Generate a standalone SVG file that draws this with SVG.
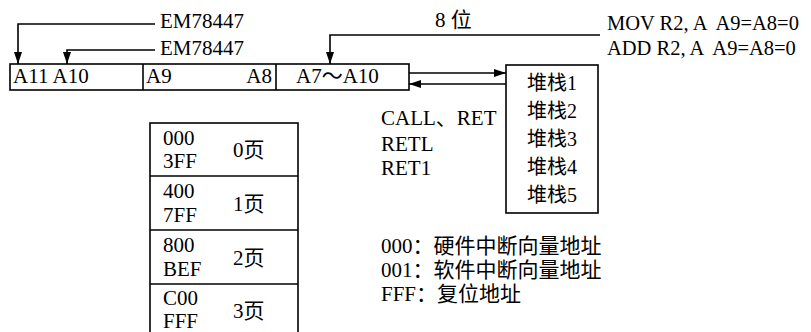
<svg xmlns="http://www.w3.org/2000/svg" width="811" height="332" viewBox="0 0 811 332">
<defs>
<style>
text{font-family:"Liberation Serif","Noto Sans CJK SC",serif;font-size:21px;fill:#000}
.box{fill:#fff;stroke:#000;stroke-width:1.6}
.ln{fill:none;stroke:#000;stroke-width:1.6}
.mid{text-anchor:middle}
.end{text-anchor:end}
.stk{font-size:20px}
.ins{font-size:20.5px}
</style>
<marker id="ah" markerWidth="12" markerHeight="8" refX="12" refY="4" orient="auto" markerUnits="userSpaceOnUse">
<path d="M0,0 L12,4 L0,8 Z" fill="#000"/>
</marker>
</defs>
<rect width="811" height="332" fill="#fff"/>

<g id="connectors">
<polyline class="ln" points="155,24 18,24 18,64" marker-end="url(#ah)"/>
<polyline class="ln" points="155,50 67,50 67,64" marker-end="url(#ah)"/>
<polyline class="ln" points="600,35 330,35 330,64" marker-end="url(#ah)"/>
<line class="ln" x1="409" y1="73" x2="506" y2="73" marker-end="url(#ah)"/>
<line class="ln" x1="506" y1="84" x2="409" y2="84" marker-end="url(#ah)"/>
</g>

<g id="labels">
<text x="160" y="28">EM78447</text>
<text x="160" y="55">EM78447</text>
<text x="435" y="27">8 位</text>
<text class="ins" x="607" y="30" xml:space="preserve">MOV R2, A  A9=A8=0</text>
<text class="ins" x="607" y="55" xml:space="preserve">ADD R2, A  A9=A8=0</text>
</g>

<g id="register">
<rect class="box" x="10" y="64" width="399" height="26"/>
<line class="ln" x1="143" y1="64" x2="143" y2="90"/>
<line class="ln" x1="276" y1="64" x2="276" y2="90"/>
<text x="13" y="83">A11 A10</text>
<text x="146" y="83">A9</text>
<text class="end" x="272" y="83">A8</text>
<text x="296" y="83">A7～A10</text>
</g>

<g id="stack">
<rect class="box" x="506" y="65" width="92" height="148"/>
<text class="mid stk" x="552" y="90">堆栈1</text>
<text class="mid stk" x="552" y="118">堆栈2</text>
<text class="mid stk" x="552" y="146">堆栈3</text>
<text class="mid stk" x="552" y="174">堆栈4</text>
<text class="mid stk" x="552" y="202">堆栈5</text>
</g>

<g id="instructions">
<text x="381" y="125">CALL、RET</text>
<text x="381" y="151">RETL</text>
<text x="381" y="175">RET1</text>
</g>

<g id="pages">
<rect class="box" x="150" y="123" width="148" height="212"/>
<line class="ln" x1="150" y1="176" x2="298" y2="176"/>
<line class="ln" x1="150" y1="230" x2="298" y2="230"/>
<line class="ln" x1="150" y1="284" x2="298" y2="284"/>
<text x="163" y="145">000</text>
<text x="163" y="168">3FF</text>
<text x="233" y="157">0页</text>
<text x="163" y="198">400</text>
<text x="163" y="222">7FF</text>
<text x="233" y="211">1页</text>
<text x="163" y="252">800</text>
<text x="163" y="276">BEF</text>
<text x="233" y="265">2页</text>
<text x="163" y="305">C00</text>
<text x="163" y="328">FFF</text>
<text x="233" y="318">3页</text>
</g>

<g id="notes">
<text x="381" y="253">000：硬件中断向量地址</text>
<text x="381" y="277">001：软件中断向量地址</text>
<text x="381" y="301">FFF：复位地址</text>
</g>
</svg>
